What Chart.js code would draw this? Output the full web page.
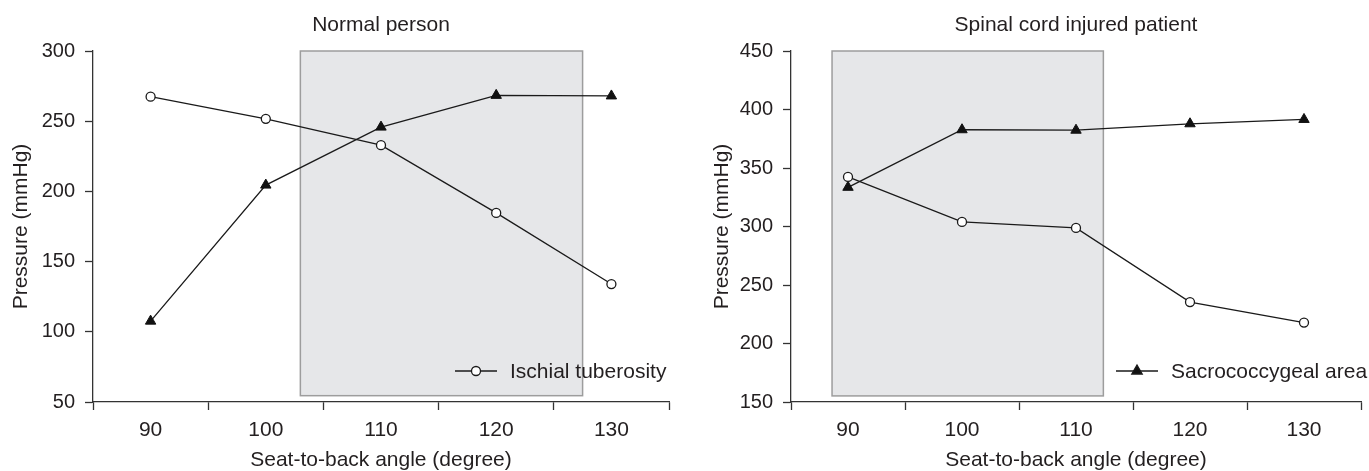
<!DOCTYPE html>
<html><head><meta charset="utf-8">
<script src="https://cdn.jsdelivr.net/npm/chart.js@4.4.1/dist/chart.umd.min.js"></script>
<style>
html,body{margin:0;padding:0;background:#fff;}
#wrap{display:flex;width:1369px;height:471px;}
#a{width:684px;height:471px;position:relative}
#b{width:685px;height:471px;position:relative}
</style></head><body>
<div id="wrap"><div id="a"><canvas id="c1"></canvas></div><div id="b"><canvas id="c2"></canvas></div></div>
<script>
// ---- data ----
const angles = [90, 100, 110, 120, 130];
const xTickLabels = ['90', '100', '110', '120', '130'];
const xRange = [85, 135];
const normalIschial = [267.5, 251.7, 232.9, 184.7, 134];
const normalSacro = [107.6, 204.5, 245.8, 268.4, 268];
const sciIschial = [342.4, 303.9, 298.8, 235.4, 217.9];
const sciSacro = [333.5, 382.7, 382.3, 387.8, 391.5];
const normalYRange = [50, 300];
const sciYRange = [150, 450];
const normalShadeX = [103, 127.5];
const normalShadeY = [54.5, 300];
const sciShadeX = [88.6, 112.4];
const sciShadeY = [155.2, 450];
const seriesNames = ['Ischial tuberosity', 'Sacrococcygeal area'];
const panelTitles = ['Normal person', 'Spinal cord injured patient'];

// ---- styles ----
const FONT = '"Liberation Sans", Arial, Helvetica, sans-serif';
const TXT = '#231f20';
const AX = '#333333';
Chart.defaults.font.family = FONT;
Chart.defaults.color = TXT;

const shadePlugin = {
  id: 'shade',
  beforeDatasetsDraw(chart, args, opts) {
    const {ctx, scales: {x, y}} = chart;
    const x0 = x.getPixelForValue(opts.xr[0]), x1 = x.getPixelForValue(opts.xr[1]);
    const y0 = y.getPixelForValue(opts.yr[1]), y1 = y.getPixelForValue(opts.yr[0]);
    ctx.save();
    ctx.fillStyle = '#e6e7e9';
    ctx.fillRect(x0, y0, x1 - x0, y1 - y0);
    ctx.strokeStyle = '#9d9d9d';
    ctx.lineWidth = 1.5;
    ctx.strokeRect(x0, y0, x1 - x0, y1 - y0);
    ctx.restore();
  }
};

const panelTitlePlugin = {
  id: 'panelTitle',
  afterDraw(chart, args, opts) {
    const {ctx, chartArea} = chart;
    ctx.save();
    ctx.fillStyle = TXT;
    ctx.font = '21px ' + FONT;
    ctx.textAlign = 'center';
    ctx.textBaseline = 'middle';
    ctx.fillText(opts.text, (chartArea.left + chartArea.right) / 2, chartArea.top - 26);
    ctx.restore();
  }
};

const keyPlugin = {
  id: 'key',
  afterDatasetsDraw(chart, args, opts) {
    const {ctx, chartArea} = chart;
    const ds = chart.data.datasets[opts.index];
    const lx = chartArea.left + opts.dx, ly = chartArea.bottom - opts.dy;
    ctx.save();
    ctx.strokeStyle = '#1a1a1a';
    ctx.lineWidth = 1.3;
    ctx.beginPath(); ctx.moveTo(lx, ly); ctx.lineTo(lx + 42, ly); ctx.stroke();
    ctx.fillStyle = ds.pointBackgroundColor;
    ctx.strokeStyle = '#1a1a1a';
    Chart.helpers.drawPoint(ctx, {pointStyle: ds.pointStyle, radius: ds.pointRadius, rotation: 0, borderWidth: ds.pointBorderWidth}, lx + 21, ly);
    ctx.fillStyle = TXT;
    ctx.font = '21px ' + FONT;
    ctx.textBaseline = 'middle';
    ctx.textAlign = 'left';
    ctx.fillText(ds.label, lx + 55, ly + 1);
    ctx.restore();
  }
};

function makeChart(id, cfg) {
  const mk = (vals) => angles.map((a, i) => ({x: a, y: vals[i]}));
  return new Chart(document.getElementById(id), {
    type: 'line',
    data: {
      datasets: [
        {label: seriesNames[0], data: mk(cfg.ischial), borderColor: '#1a1a1a', borderWidth: 1.3,
         pointStyle: 'circle', pointRadius: 4.5, pointBackgroundColor: '#ffffff', pointBorderColor: '#1a1a1a', pointBorderWidth: 1.3},
        {label: seriesNames[1], data: mk(cfg.sacro), borderColor: '#1a1a1a', borderWidth: 1.3,
         pointStyle: 'triangle', pointRadius: 6, pointBackgroundColor: '#111111', pointBorderColor: '#111111', pointBorderWidth: 1}
      ]
    },
    options: {
      responsive: true, maintainAspectRatio: false, animation: false,
      layout: {padding: {left: 0, right: cfg.padRight, top: 51, bottom: 0}},
      plugins: {
        legend: {display: false}, tooltip: {enabled: false}, title: {display: false},
        panelTitle: {text: cfg.title},
        shade: {xr: cfg.shadeX, yr: cfg.shadeY},
        key: {index: cfg.keyIndex, dx: cfg.keyDx, dy: 31}
      },
      scales: {
        x: {
          type: 'linear', min: xRange[0], max: xRange[1],
          afterFit: s => { s.height = 69; },
          ticks: {stepSize: 5, autoSkip: false, maxRotation: 0, minRotation: 0, padding: 8, color: TXT, font: {size: 21},
                  callback: v => xTickLabels.includes(String(v)) ? String(v) : ''},
          grid: {drawOnChartArea: false, drawTicks: true, tickLength: 8, tickWidth: 1.3,
                 tickColor: c => (c.tick && Math.abs(c.tick.value % 10) === 5) ? AX : 'rgba(0,0,0,0)'},
          border: {display: true, color: AX, width: 1.3},
          title: {display: true, text: 'Seat-to-back angle (degree)', color: TXT, font: {size: 21, lineHeight: 1.05}, padding: {top: 0, bottom: 0}}
        },
        y: {
          min: cfg.yr[0], max: cfg.yr[1],
          afterFit: s => { s.width = cfg.yWidth; },
          ticks: {stepSize: 50, padding: 10, color: TXT, font: {size: 20}},
          grid: {drawOnChartArea: false, drawTicks: true, tickLength: 8, tickWidth: 1.3, tickColor: AX},
          border: {display: true, color: AX, width: 1.3},
          title: {display: true, text: 'Pressure (mmHg)', color: TXT, font: {size: 21}, padding: {top: cfg.yTitlePad, bottom: 0}}
        }
      }
    },
    plugins: [shadePlugin, keyPlugin, panelTitlePlugin]
  });
}

makeChart('c1', {title: panelTitles[0], ischial: normalIschial, sacro: normalSacro, yr: normalYRange,
  shadeX: normalShadeX, shadeY: normalShadeY, keyIndex: 0, keyDx: 362, padRight: 15, yWidth: 93, yTitlePad: 8.4});
makeChart('c2', {title: panelTitles[1], ischial: sciIschial, sacro: sciSacro, yr: sciYRange,
  shadeX: sciShadeX, shadeY: sciShadeY, keyIndex: 1, keyDx: 325, padRight: 3, yWidth: 107, yTitlePad: 25.9});
</script>
</body></html>
